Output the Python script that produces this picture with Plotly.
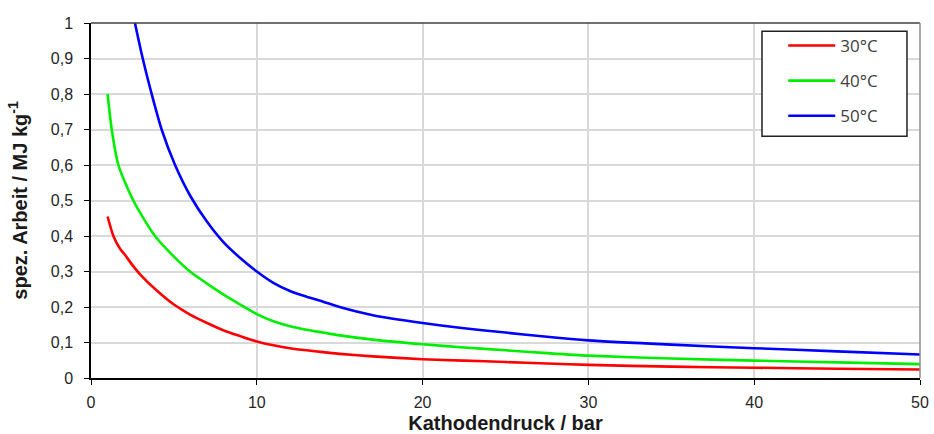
import plotly.graph_objects as go

# Kathodendruck in bar / spezifische Arbeit in MJ/kg
druck_30 = [1, 1.35, 1.75, 2, 2.5, 3, 4, 5, 6, 7, 8, 9, 10, 11, 12, 13, 14, 15, 17, 20, 22.5, 25, 27.5, 30, 35, 40, 45, 50]
arbeit_30 = [0.455, 0.40, 0.364, 0.35, 0.318, 0.29, 0.245, 0.207, 0.178, 0.155, 0.134, 0.118, 0.103, 0.092, 0.084,
             0.078, 0.073, 0.068, 0.061, 0.053, 0.049, 0.045, 0.041, 0.037, 0.032, 0.029, 0.026, 0.024]

druck_40 = [1, 1.25, 1.65, 2.55, 3.86, 5, 5.97, 7, 8, 9, 10, 11, 12, 13, 14, 15, 17, 20, 22.5, 25, 27.5, 30, 35, 40, 45, 50]
arbeit_40 = [0.80, 0.70, 0.60, 0.50, 0.40, 0.342, 0.30, 0.266, 0.235, 0.207, 0.18, 0.16,
             0.146, 0.136, 0.128, 0.12, 0.108, 0.095, 0.086, 0.078, 0.07, 0.063, 0.055, 0.049, 0.044, 0.039]

druck_50 = [2.3, 2.65, 3.12, 3.66, 4.26, 5.07, 6, 7, 8, 9, 10, 11, 12, 13, 14, 15, 17, 20, 22.5, 25, 27.5, 30, 35, 40, 45, 50]
arbeit_50 = [1.08, 1.0, 0.9, 0.8, 0.7, 0.6, 0.512, 0.44, 0.382, 0.338, 0.30, 0.268, 0.245, 0.229, 0.215,
             0.20, 0.177, 0.155, 0.14, 0.128, 0.116, 0.106, 0.094, 0.084, 0.075, 0.066]

serien = [
    ("30°C", druck_30, arbeit_30, "#ff0000"),
    ("40°C", druck_40, arbeit_40, "#00ee00"),
    ("50°C", druck_50, arbeit_50, "#0000ff"),
]

fig = go.Figure()
for name, x, y, farbe in serien:
    fig.add_trace(go.Scatter(
        x=x, y=y, name=name, mode="lines", legendgroup=name,
        line=dict(color=farbe, width=2.6, shape="spline", smoothing=0.7),
    ))

tick_font = dict(family="Liberation Sans, Arial, sans-serif", size=16, color="#262626")
title_font = dict(family="Liberation Sans, Arial, sans-serif", size=20, color="#1a1a1a")

fig.update_layout(
    width=934, height=434,
    margin=dict(l=91, r=14, t=23, b=56),
    paper_bgcolor="white", plot_bgcolor="white",
    separators=",.",
    showlegend=True,
    legend=dict(
        x=0.835, y=0.986, xanchor="left", yanchor="top",
        bgcolor="rgba(0,0,0,0)", borderwidth=0,
        font=dict(family="Open Sans, sans-serif", size=17, color="#404040"),
        itemwidth=47, tracegroupgap=10,
    ),
    xaxis=dict(
        range=[0, 50], dtick=10, tick0=0, automargin=False,
        showgrid=True, gridcolor="#d9d9d9", gridwidth=1.5,
        showline=True, linecolor="black", linewidth=1.5,
        ticks="outside", ticklen=5, tickcolor="black", ticklabelstandoff=4,
        tickfont=tick_font, zeroline=False,
        title=dict(text="<b>Kathodendruck / bar</b>", font=title_font, standoff=6),
    ),
    yaxis=dict(
        range=[0, 1], dtick=0.1, tick0=0, automargin=False,
        showgrid=True, gridcolor="#d9d9d9", gridwidth=1.5,
        showline=True, linecolor="black", linewidth=1.5,
        ticks="outside", ticklen=5, tickcolor="black", ticklabelstandoff=8,
        tickfont=tick_font, zeroline=False,
        title=dict(text="<b>spez. Arbeit / MJ kg<sup>-1</sup></b>", font=title_font, standoff=18),
    ),
)

# Legendenrahmen
fig.add_shape(type="rect", xref="paper", yref="paper", x0=0.8094, x1=0.9843, y0=0.681, y1=0.977,
              fillcolor="white", line=dict(color="#222222", width=1.5), layer="above")

# Rahmen oben und rechts
fig.add_shape(type="line", xref="paper", yref="paper", x0=0, x1=1, y0=1, y1=1,
              line=dict(color="#404040", width=1.5))
fig.add_shape(type="line", xref="paper", yref="paper", x0=1, x1=1, y0=0, y1=1,
              line=dict(color="#8c8c8c", width=1.5))

fig.write_html("out.html")
